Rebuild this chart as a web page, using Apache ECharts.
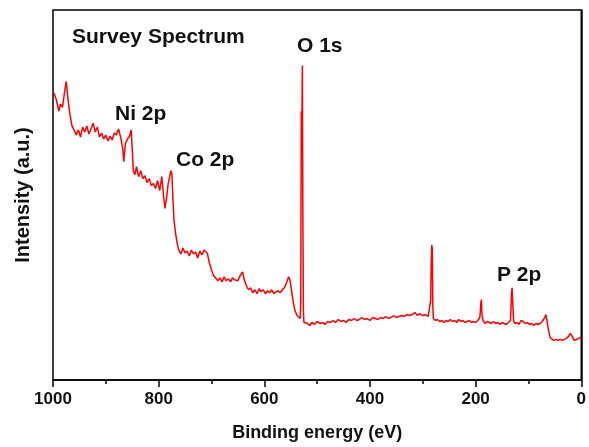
<!DOCTYPE html>
<html>
<head>
<meta charset="utf-8">
<script src="https://cdn.jsdelivr.net/npm/echarts@6/dist/echarts.min.js"></script>
<style>
html,body{margin:0;padding:0;background:#fff;}
#chart{width:589px;height:447px;}
</style>
</head>
<body>
<div id="chart"></div>
<script>
// Binding energy (eV)
const energy = [
998,994,991,989,986,982,979,975,972,968,964,960,956,952,948,944,940,936,932,928,924,920,916,912,908,904,900,896,892,888,884,880,876,872,868,866,863,859,855,852,850,848,845,842,838,834,830,826,822,818,814,810,806,802,798,794,791,788,785,782,779,777,775,773,771,768,765,762,758,754,750,746,742,738,734,730,726,722,718,714,711,708,704,700,696,692,688,684,680,676,672,668,664,660,656,650,646,641,638,634,630,626,622,618,614,610,606,602,598,594,590,586,582,578,574,570,566,562,558,554,551,548,545,542,538,535,532,531,530,529,528,527,526,525,522,518,514,510,505,500,495,490,485,480,475,470,465,460,455,450,445,440,435,430,425,420,415,410,405,400,395,390,385,380,375,370,365,360,355,350,345,340,335,330,325,320,315,310,306,300,295,290,287,285,284,283,282,281,280,276,272,268,264,260,256,252,248,244,240,236,232,228,224,220,216,212,208,204,200,196,192,190,189,188,186,182,178,174,170,166,162,158,154,150,146,142,138,134,132,131,130,128,126,122,118,114,110,106,102,98,94,90,86,82,78,74,71,69,67,65,62,59,56,52,48,44,40,36,32,28,24,21,19,17,14,11,8,5,2,0
];
// Intensity (a.u.)
const intensity = [
289,283,276,271,278,275,287,301,285,268,256,252,247,252,245,255,250,256,248,253,259,250,255,245,249,243,247,241,246,242,249,247,253,245,233,220,238,243,246,252,233,211,207,215,205,211,203,206,199,203,196,198,193,201,191,205,187,173,183,198,205,211,208,183,161,148,138,131,127,133,128,130,125,131,127,129,123,130,126,131,133,128,118,111,105,103,100,103,99,104,100,102,99,103,101,100,105,109,101,95,91,93,88,91,87,92,89,91,87,90,88,91,87,89,90,88,91,93,98,104,100,88,78,70,65,63,62,80,271,240,317,170,70,58,56,57,55,58,56,59,57,58,56,59,58,60,58,61,59,60,58,61,60,62,60,61,63,61,62,60,63,62,61,63,62,64,62,63,65,63,64,65,64,66,65,66,68,65,67,65,66,64,66,80,120,136,132,75,62,60,61,59,60,58,60,59,61,59,60,58,61,59,60,58,59,60,58,59,58,60,63,78,81,66,60,57,59,58,57,59,57,58,56,58,57,56,58,60,88,93,80,60,57,58,56,60,59,57,58,56,57,55,57,56,57,59,60,63,66,60,50,43,41,40,41,40,41,40,41,42,44,47,48,44,40,39,41,43,43,42
];
const xTicks = [0, 200, 400, 600, 800, 1000];
const peakLabels = ['Survey Spectrum', 'O 1s', 'Ni 2p', 'Co 2p', 'P 2p'];

const seriesData = energy.map((e, i) => [e, intensity[i]]);
const FONT = '"Liberation Sans", Arial, sans-serif';

const labelPos = [[72, 38], [297, 47], [115, 115], [176, 160.5], [497, 275.5]];

const chart = echarts.init(document.getElementById('chart'), null, {renderer: 'canvas'});
chart.setOption({
  animation: false,
  backgroundColor: '#fff',
  grid: {left: 53, right: 7, top: 10, bottom: 64, show: true, borderColor: '#000', borderWidth: 1.5, backgroundColor: 'transparent'},
  xAxis: {
    type: 'value', min: 0, max: 1000, interval: 200, inverse: true,
    name: 'Binding energy (eV)', nameLocation: 'middle', nameGap: 44,
    nameTextStyle: {fontFamily: FONT, fontWeight: 'bold', fontSize: 18, color: '#111'},
    axisLine: {show: true, lineStyle: {color: '#000', width: 1.5}},
    axisTick: {show: true, inside: false, length: 7, lineStyle: {color: '#000', width: 1.5}},
    minorTick: {show: true, splitNumber: 2, length: 4, lineStyle: {color: '#000', width: 1.5}},
    axisLabel: {margin: 11, fontFamily: FONT, fontWeight: 'bold', fontSize: 17, color: '#111',
      formatter: v => xTicks.includes(v) ? String(v) : ''},
    splitLine: {show: false}
  },
  yAxis: {
    type: 'value', min: 0, max: 373,
    name: 'Intensity (a.u.)', nameLocation: 'middle', nameGap: 20, nameRotate: 90,
    nameTextStyle: {fontFamily: FONT, fontWeight: 'bold', fontSize: 20, color: '#111'},
    axisLine: {show: true, lineStyle: {color: '#000', width: 1.5}},
    axisTick: {show: false}, axisLabel: {show: false}, splitLine: {show: false}
  },
  series: [{
    type: 'line', data: seriesData, showSymbol: false, symbol: 'none',
    lineStyle: {color: '#ff0000', width: 1.5}, z: 3
  }],
  graphic: peakLabels.map((t, i) => ({
    type: 'text', left: labelPos[i][0], top: labelPos[i][1] - 11,
    style: {text: t, font: 'bold 21px ' + FONT, fill: '#111'}
  }))
});
</script>
</body>
</html>
